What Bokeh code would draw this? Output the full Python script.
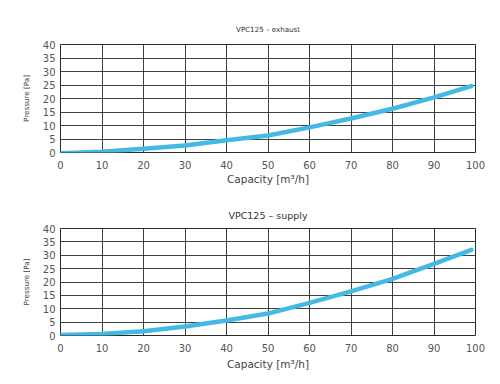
from bokeh.plotting import figure
from bokeh.layouts import column
from bokeh.models import FixedTicker, Range1d
from bokeh.embed import file_html
from bokeh.resources import INLINE

capacity = [0, 10, 20, 30, 40, 50, 60, 70, 80, 90, 99]
exhaust_pa = [-0.3, 0.3, 1.4, 2.6, 4.5, 6.3, 9.3, 12.6, 16.2, 20.4, 24.6]
supply_pa = [0.2, 0.6, 1.6, 3.4, 5.6, 8.2, 12.2, 16.5, 21.2, 26.8, 32.0]

x_ticks = [0, 10, 20, 30, 40, 50, 60, 70, 80, 90, 100]
y_ticks = [0, 5, 10, 15, 20, 25, 30, 35, 40]

FONT = "DejaVu Sans"
GRID = "#2b2b2b"
CURVE = "#45B9E6"


def make(title, ys, title_size, left, right, top, bottom, fh, standoff, xlab_standoff):
    p = figure(output_backend="svg", toolbar_location=None,
               frame_width=415, frame_height=fh,
               min_border_left=left, min_border_right=right,
               min_border_top=top, min_border_bottom=bottom,
               x_range=Range1d(0, 100), y_range=Range1d(0, 40),
               title=title)
    p.title.align = "center"
    p.title.text_font = FONT
    p.title.text_font_style = "normal"
    p.title.text_font_size = title_size
    p.title.text_color = "#333333"
    p.title.standoff = standoff
    p.xaxis.ticker = FixedTicker(ticks=x_ticks)
    p.yaxis.ticker = FixedTicker(ticks=y_ticks)
    for ax in (p.xaxis[0], p.yaxis[0]):
        ax.axis_line_color = None
        ax.major_tick_line_color = None
        ax.minor_tick_line_color = None
        ax.major_tick_out = 0
        ax.major_tick_in = 0
        ax.major_label_text_font = FONT
        ax.major_label_text_font_size = "10px"
        ax.major_label_text_color = "#555555"
        ax.axis_label_text_font = FONT
        ax.axis_label_text_font_style = "normal"
        ax.axis_label_text_color = "#444444"
    p.xaxis.axis_label = "Capacity [m³/h]"
    p.xaxis.axis_label_text_font_size = "10.5px"
    p.xaxis.major_label_standoff = 8
    p.xaxis.axis_label_standoff = xlab_standoff
    p.yaxis.axis_label = "Pressure [Pa]"
    p.yaxis.axis_label_text_font_size = "7.2px"
    p.yaxis.major_label_standoff = 5
    p.yaxis.axis_label_standoff = 9
    p.xgrid.grid_line_color = GRID
    p.ygrid.grid_line_color = GRID
    p.xgrid.grid_line_alpha = 0.9
    p.ygrid.grid_line_alpha = 0.9
    p.outline_line_color = GRID
    p.outline_line_width = 1
    p.line(capacity, ys, line_color=CURVE, line_width=4.5,
           line_cap="round", line_join="round")
    return p


p1 = make("VPC125 – exhaust", exhaust_pa, "7.1px", 58, 20, 44, 40, 108, 21, 1)
p2 = make("VPC125 – supply", supply_pa, "9.5px", 60, 18, 36, 36, 107, 15, 3)
layout = column(p1, p2, spacing=0)

open("out.html", "w").write(file_html(layout, INLINE))
